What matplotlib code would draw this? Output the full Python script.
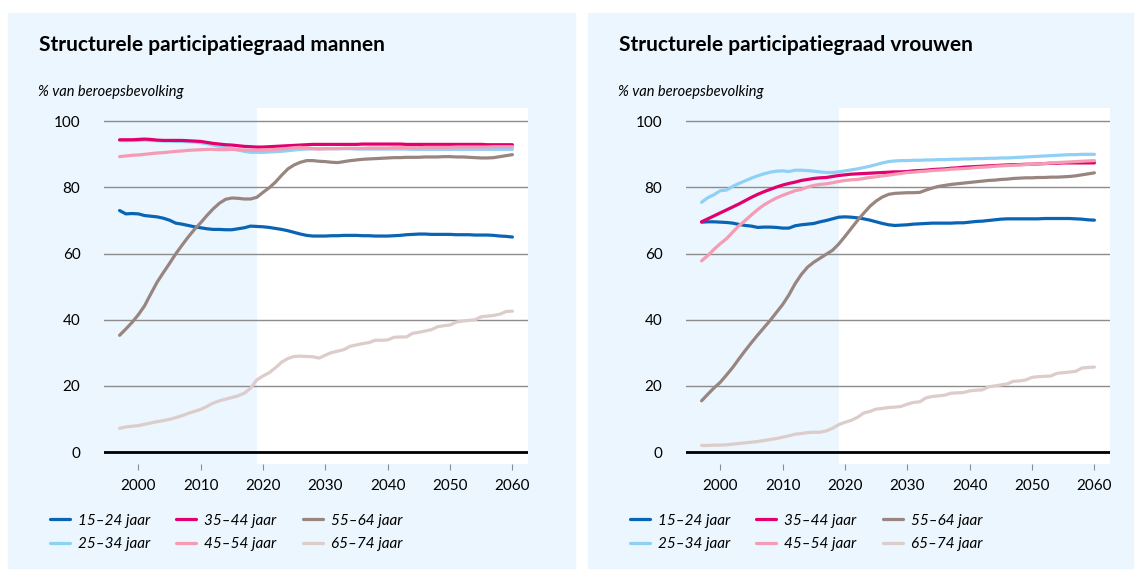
import numpy as np
import matplotlib.pyplot as plt
from matplotlib.patches import Rectangle

plt.rcParams['font.family'] = ['Lato', 'DejaVu Sans']

# data: structurele participatiegraad (% van beroepsbevolking), 1997-2060
years = np.arange(1997, 2061)
labels = ['15–24 jaar', '25–34 jaar', '35–44 jaar', '45–54 jaar', '55–64 jaar', '65–74 jaar']
colors = ['#0a64b4', '#8fd0f7', '#e2006f', '#f59bb4', '#998580', '#dcccca']

men_15_24 = [73.0, 72.0, 72.1, 72.0, 71.5, 71.3, 71.1, 70.7, 70.1, 69.2, 68.9, 68.5, 68.1, 67.8, 67.5, 67.3,
             67.3, 67.2, 67.2, 67.5, 67.8, 68.3, 68.2, 68.1, 67.9, 67.6, 67.3, 66.9, 66.4, 65.9, 65.5, 65.3,
             65.3, 65.3, 65.4, 65.4, 65.5, 65.5, 65.5, 65.4, 65.4, 65.3, 65.3, 65.3, 65.4, 65.5, 65.7, 65.8,
             65.9, 65.9, 65.8, 65.8, 65.8, 65.8, 65.7, 65.7, 65.7, 65.6, 65.6, 65.6, 65.5, 65.3, 65.2, 65.0]
men_25_34 = [94.2, 94.1, 94.2, 94.2, 94.3, 94.2, 94.1, 94.0, 94.0, 93.9, 93.9, 93.8, 93.7, 93.5, 93.2, 92.8,
             92.4, 92.0, 91.7, 91.3, 90.9, 90.6, 90.6, 90.6, 90.7, 90.8, 90.9, 91.1, 91.3, 91.5, 91.6, 91.7,
             91.7, 91.7, 91.7, 91.7, 91.7, 91.7, 91.6, 91.6, 91.6, 91.6, 91.6, 91.6, 91.6, 91.6, 91.6, 91.5,
             91.5, 91.5, 91.5, 91.5, 91.5, 91.5, 91.5, 91.5, 91.5, 91.5, 91.5, 91.5, 91.5, 91.5, 91.5, 91.5]
men_35_44 = [94.4, 94.4, 94.4, 94.5, 94.6, 94.5, 94.3, 94.2, 94.2, 94.2, 94.2, 94.1, 94.0, 93.9, 93.6, 93.3,
             93.1, 92.9, 92.8, 92.6, 92.4, 92.3, 92.2, 92.2, 92.3, 92.4, 92.5, 92.6, 92.7, 92.8, 92.9, 93.0,
             93.0, 93.0, 93.0, 93.0, 93.0, 93.0, 93.0, 93.1, 93.1, 93.1, 93.1, 93.1, 93.1, 93.1, 93.0, 93.0,
             93.0, 93.0, 93.0, 93.0, 93.0, 93.0, 93.0, 93.0, 93.0, 93.0, 93.0, 92.9, 92.9, 92.9, 92.9, 92.9]
men_45_54 = [89.3, 89.5, 89.7, 89.8, 90.0, 90.2, 90.4, 90.5, 90.7, 90.9, 91.0, 91.2, 91.3, 91.4, 91.5, 91.5,
             91.4, 91.4, 91.5, 91.4, 91.3, 91.2, 91.2, 91.3, 91.4, 91.5, 91.6, 91.8, 92.0, 92.1, 91.9, 91.7,
             91.6, 91.7, 91.7, 91.7, 91.8, 91.8, 91.8, 91.8, 91.9, 91.9, 91.9, 91.9, 92.0, 92.0, 92.0, 92.0,
             92.0, 92.1, 92.1, 92.1, 92.1, 92.1, 92.2, 92.2, 92.2, 92.2, 92.2, 92.2, 92.3, 92.3, 92.3, 92.3]
men_55_64 = [35.3, 37.2, 39.2, 41.5, 44.2, 47.8, 51.3, 54.2, 57.0, 59.9, 62.5, 65.0, 67.3, 69.3, 71.5, 73.5,
             75.2, 76.4, 76.8, 76.7, 76.5, 76.5, 77.0, 78.5, 79.9, 81.6, 83.7, 85.6, 86.8, 87.6, 88.1, 88.1,
             87.9, 87.8, 87.6, 87.5, 87.8, 88.1, 88.3, 88.5, 88.6, 88.7, 88.8, 88.9, 89.0, 89.0, 89.1, 89.1,
             89.1, 89.2, 89.2, 89.2, 89.3, 89.3, 89.2, 89.2, 89.1, 89.0, 88.9, 88.9, 89.0, 89.3, 89.6, 89.9]
men_65_74 = [7.2, 7.6, 7.8, 8.0, 8.4, 8.8, 9.2, 9.5, 9.9, 10.4, 11.0, 11.7, 12.3, 12.9, 13.8, 14.8,
             15.5, 16.0, 16.5, 17.0, 17.8, 19.3, 21.8, 23.0, 24.0, 25.5, 27.2, 28.3, 28.9, 29.0, 28.9, 28.8,
             28.4, 29.3, 30.1, 30.5, 31.0, 32.0, 32.4, 32.8, 33.1, 33.8, 33.8, 33.9, 34.7, 34.8, 34.8, 35.9,
             36.2, 36.6, 37.0, 37.9, 38.2, 38.4, 39.3, 39.6, 39.8, 40.0, 40.9, 41.1, 41.3, 41.7, 42.5, 42.6]

women_15_24 = [69.5, 69.6, 69.6, 69.5, 69.4, 69.2, 68.8, 68.5, 68.3, 67.9, 68.0, 68.0, 67.9, 67.7, 67.7, 68.4,
               68.7, 68.9, 69.1, 69.6, 70.0, 70.5, 71.0, 71.1, 71.0, 70.8, 70.5, 70.1, 69.6, 69.1, 68.7, 68.5,
               68.6, 68.7, 68.9, 69.0, 69.1, 69.2, 69.2, 69.2, 69.2, 69.3, 69.3, 69.5, 69.7, 69.8, 70.0, 70.2,
               70.4, 70.5, 70.5, 70.5, 70.5, 70.5, 70.5, 70.6, 70.6, 70.6, 70.6, 70.6, 70.5, 70.4, 70.2, 70.1]
women_25_34 = [75.5, 76.9, 77.8, 79.0, 79.2, 80.3, 81.2, 82.0, 82.8, 83.5, 84.1, 84.6, 84.9, 85.0, 84.8, 85.2,
               85.2, 85.1, 84.9, 84.7, 84.5, 84.5, 84.7, 85.0, 85.3, 85.6, 86.0, 86.4, 86.9, 87.4, 87.8, 88.0,
               88.1, 88.1, 88.2, 88.2, 88.3, 88.3, 88.4, 88.4, 88.5, 88.5, 88.6, 88.6, 88.7, 88.7, 88.8, 88.8,
               88.9, 88.9, 89.0, 89.1, 89.2, 89.3, 89.4, 89.5, 89.6, 89.7, 89.8, 89.9, 89.9, 90.0, 90.0, 90.0]
women_35_44 = [69.6, 70.5, 71.4, 72.3, 73.2, 74.1, 75.0, 76.0, 77.0, 77.9, 78.7, 79.4, 80.1, 80.7, 81.2, 81.6,
               82.1, 82.4, 82.7, 82.9, 83.0, 83.3, 83.6, 83.8, 84.0, 84.1, 84.2, 84.3, 84.4, 84.5, 84.6, 84.7,
               84.7, 84.8, 85.0, 85.1, 85.2, 85.4, 85.5, 85.6, 85.8, 85.9, 86.1, 86.2, 86.3, 86.4, 86.5, 86.6,
               86.7, 86.8, 86.9, 86.9, 87.0, 87.0, 87.1, 87.2, 87.3, 87.3, 87.4, 87.4, 87.4, 87.4, 87.4, 87.4]
women_45_54 = [57.8, 59.4, 61.3, 63.0, 64.5, 66.5, 68.4, 70.0, 71.7, 73.3, 74.7, 75.8, 76.8, 77.6, 78.3, 79.0,
               79.4, 80.1, 80.6, 80.9, 81.1, 81.4, 81.8, 82.1, 82.3, 82.4, 82.7, 83.0, 83.2, 83.5, 83.7, 84.0,
               84.2, 84.5, 84.6, 84.8, 84.9, 85.1, 85.2, 85.3, 85.5, 85.6, 85.7, 85.8, 86.0, 86.1, 86.2, 86.4,
               86.5, 86.6, 86.7, 86.8, 86.9, 87.0, 87.1, 87.2, 87.4, 87.5, 87.6, 87.7, 87.8, 87.9, 88.0, 88.1]
women_55_64 = [15.5, 17.5, 19.4, 21.1, 23.3, 25.6, 28.2, 30.7, 33.1, 35.4, 37.6, 39.8, 42.2, 44.6, 47.5, 50.9,
               53.7, 55.9, 57.4, 58.6, 59.8, 61.0, 62.9, 65.2, 67.6, 70.0, 72.2, 74.3, 75.9, 77.1, 77.9, 78.2,
               78.3, 78.4, 78.4, 78.5, 79.2, 79.8, 80.3, 80.6, 80.9, 81.1, 81.3, 81.5, 81.7, 81.9, 82.1, 82.2,
               82.4, 82.5, 82.7, 82.8, 82.9, 82.9, 83.0, 83.0, 83.1, 83.1, 83.2, 83.3, 83.5, 83.8, 84.1, 84.4]
women_65_74 = [2.0, 2.0, 2.1, 2.1, 2.2, 2.4, 2.6, 2.8, 3.0, 3.2, 3.5, 3.8, 4.1, 4.5, 4.9, 5.4,
               5.6, 5.9, 6.0, 6.0, 6.4, 7.2, 8.3, 9.0, 9.6, 10.5, 11.8, 12.3, 13.0, 13.2, 13.5, 13.6,
               13.8, 14.5, 15.0, 15.2, 16.4, 16.8, 17.0, 17.2, 17.8, 17.9, 18.0, 18.5, 18.7, 18.8, 19.7, 20.0,
               20.3, 20.6, 21.4, 21.5, 21.8, 22.6, 22.8, 22.9, 23.0, 23.8, 24.0, 24.2, 24.4, 25.4, 25.6, 25.7]

men = [men_15_24, men_25_34, men_35_44, men_45_54, men_55_64, men_65_74]
women = [women_15_24, women_25_34, women_35_44, women_45_54, women_55_64, women_65_74]
titles = ['Structurele participatiegraad mannen', 'Structurele participatiegraad vrouwen']

W, H = 1140, 570
bg = '#ebf6fe'
fig = plt.figure(figsize=(W / 100, H / 100), dpi=100)

# panel backgrounds (pixel boxes)
panels = [(8, 13, 575, 568), (588, 13, 1133, 568)]
axes_left = [104, 686]

for i, (series, title) in enumerate(zip([men, women], titles)):
    x0, y0, x1, y1 = panels[i]
    fig.patches.append(Rectangle((x0 / W, 1 - y1 / H), (x1 - x0) / W, (y1 - y0) / H,
                                 transform=fig.transFigure, color=bg, zorder=-5))
    fig.text((x0 + 31) / W, 1 - 45 / H, title, fontsize=15, fontweight='bold', va='center')
    fig.text((x0 + 30) / W, 1 - 92 / H, '% van beroepsbevolking', fontsize=10.5, style='italic', va='center')

    ax = fig.add_axes([axes_left[i] / W, 1 - 464 / H, 424 / W, 356 / H])
    ax.set_facecolor(bg)
    ax.set_xlim(1994.5, 2062.5)
    ax.set_ylim(-3.6, 104)
    # projection part on white
    ax.axvspan(2019, 2062.5, color='white', zorder=0)

    for vals, lab, c in zip(series, labels, colors):
        ax.plot(years, vals, color=c, lw=2.3, label=lab, solid_capstyle='round', zorder=3)

    ax.set_yticks([0, 20, 40, 60, 80, 100])
    ax.set_xticks([2000, 2010, 2020, 2030, 2040, 2050, 2060])
    ax.grid(axis='y', color='#8c8c8c', lw=1)
    ax.axhline(0, color='black', lw=2, zorder=4)
    for s in ax.spines.values():
        s.set_visible(False)
    ax.tick_params(axis='y', length=0, pad=17, labelsize=11)
    ax.tick_params(axis='x', length=4, color='#8c8c8c', pad=7, labelsize=11, direction='out')

    ax.legend(loc='upper left', bbox_to_anchor=((x0 + 28 - axes_left[i]) / 424, -0.101),
              ncol=3, frameon=False, handlelength=1.3, handletextpad=0.55,
              columnspacing=1.7, labelspacing=0.6, prop={'size': 11, 'style': 'italic'})

fig.savefig('out.png', dpi=100)
